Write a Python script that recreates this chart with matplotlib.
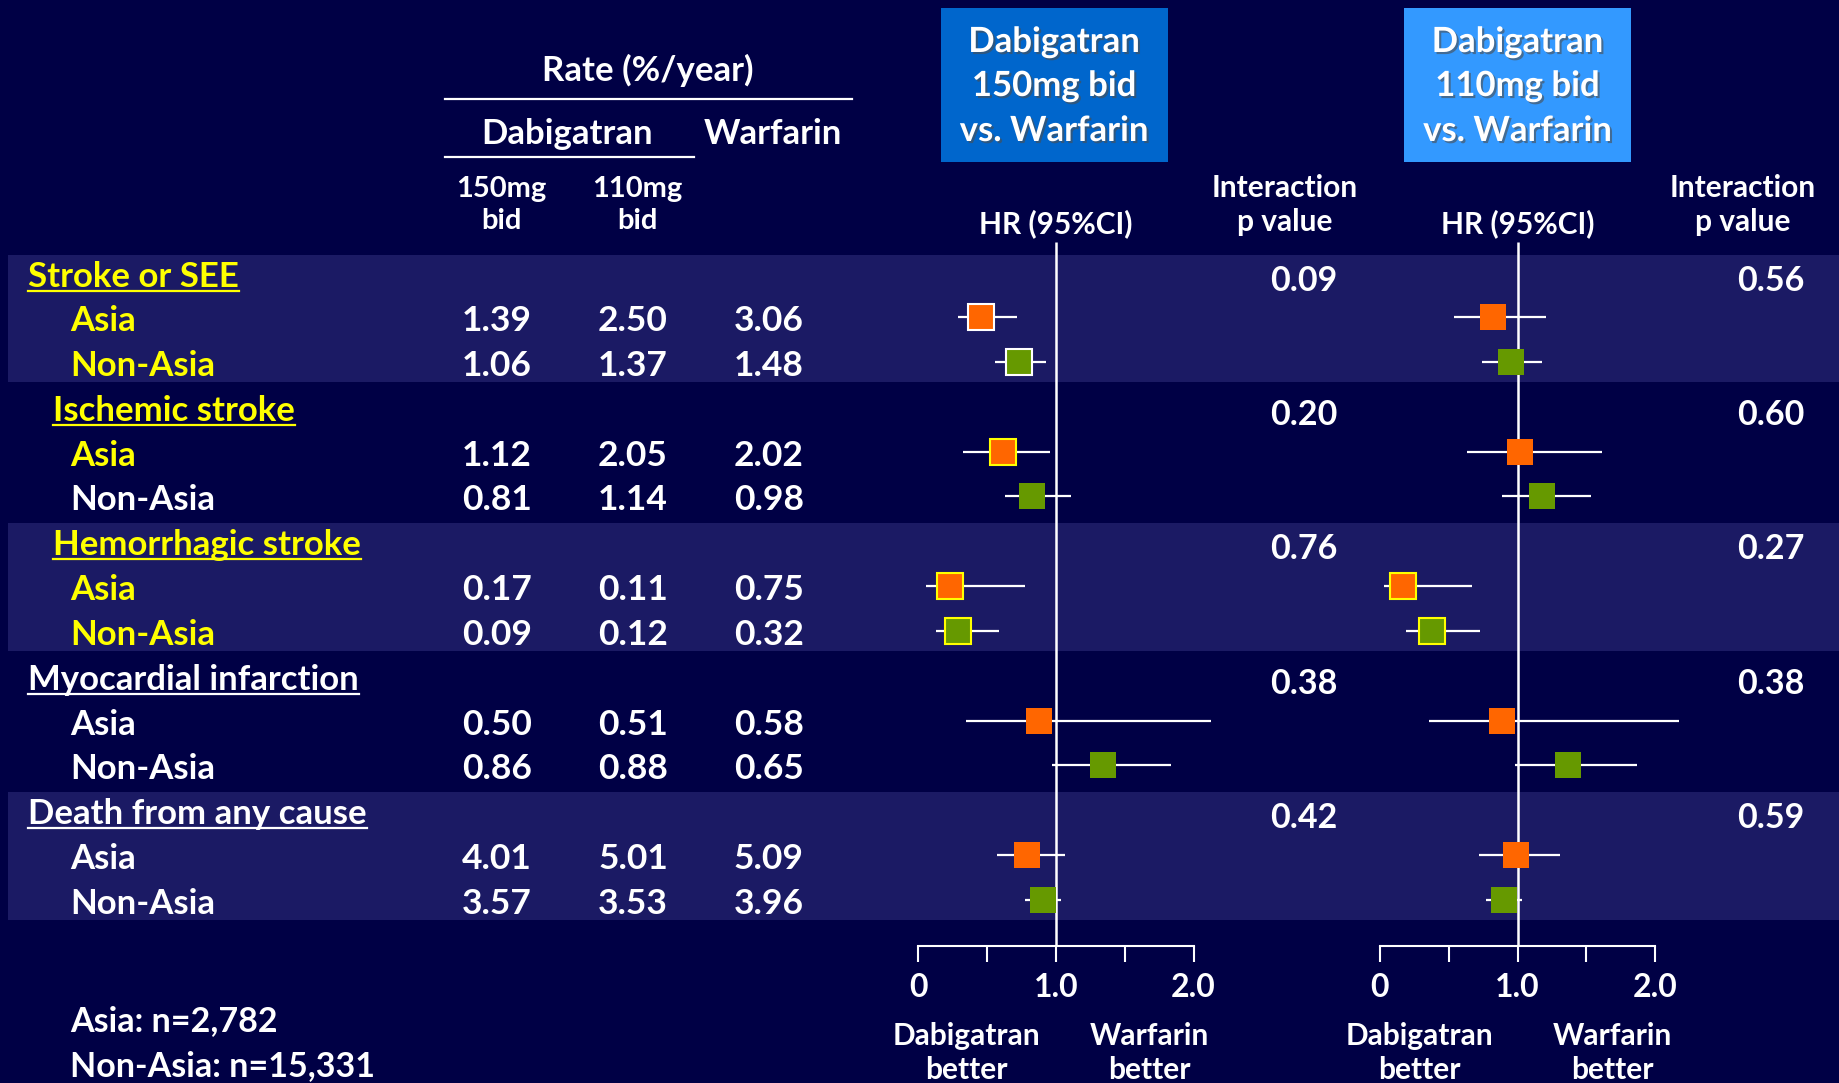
import matplotlib
matplotlib.use('Agg')
import matplotlib.pyplot as plt
import matplotlib.patheffects as pe
from matplotlib.patches import Rectangle

plt.rcParams['font.family'] = ['Lato', 'DejaVu Sans']
plt.rcParams['font.weight'] = 'bold'

# outcomes and subgroup rows
groups = ['Stroke or SEE', 'Ischemic stroke', 'Hemorrhagic stroke',
          'Myocardial infarction', 'Death from any cause']
subgroups = ['Asia', 'Non-Asia']

# event rates (%/year)
rate_d150_asia = ['1.39', '1.12', '0.17', '0.50', '4.01']
rate_d150_non = ['1.06', '0.81', '0.09', '0.86', '3.57']
rate_d110_asia = ['2.50', '2.05', '0.11', '0.51', '5.01']
rate_d110_non = ['1.37', '1.14', '0.12', '0.88', '3.53']
rate_warf_asia = ['3.06', '2.02', '0.75', '0.58', '5.09']
rate_warf_non = ['1.48', '0.98', '0.32', '0.65', '3.96']

# hazard ratios, dabigatran 150mg vs warfarin
hr150_asia = [0.46, 0.62, 0.23, 0.88, 0.79]
lo150_asia = [0.29, 0.33, 0.06, 0.35, 0.57]
hi150_asia = [0.72, 0.96, 0.78, 2.13, 1.07]
hr150_non = [0.73, 0.83, 0.29, 1.34, 0.91]
lo150_non = [0.56, 0.63, 0.13, 0.97, 0.78]
hi150_non = [0.93, 1.11, 0.59, 1.84, 1.04]

# hazard ratios, dabigatran 110mg vs warfarin
hr110_asia = [0.82, 1.02, 0.17, 0.89, 0.99]
lo110_asia = [0.54, 0.63, 0.03, 0.36, 0.72]
hi110_asia = [1.21, 1.61, 0.67, 2.17, 1.31]
hr110_non = [0.95, 1.18, 0.38, 1.37, 0.90]
lo110_non = [0.74, 0.89, 0.19, 0.98, 0.77]
hi110_non = [1.18, 1.53, 0.73, 1.87, 1.03]

# interaction p values
p150 = ['0.09', '0.20', '0.76', '0.38', '0.42']
p110 = ['0.56', '0.60', '0.27', '0.38', '0.59']

# label colours per row (header, Asia, Non-Asia)
YEL, WHT = '#ffff00', '#ffffff'
label_colors = [
    [YEL, YEL, YEL],
    [YEL, YEL, WHT],
    [YEL, YEL, YEL],
    [WHT, WHT, WHT],
    [WHT, WHT, WHT],
]
header_indent = [28, 53, 53, 28, 28]

# marker outline per panel (Asia, Non-Asia)
edges150 = [(WHT, WHT), (YEL, None), (YEL, YEL), (None, None), (None, None)]
edges110 = [(None, None), (None, None), (YEL, YEL), (None, None), (None, None)]

BG = '#000045'
BAND = '#1b1a64'
ORANGE = '#ff6600'
GREEN = '#669900'

W, H = 1839, 1083
fig = plt.figure(figsize=(W / 100, H / 100), dpi=100, facecolor=BG)
ax = fig.add_axes([0, 0, 1, 1])
ax.set_xlim(0, W)
ax.set_ylim(H, 0)
ax.axis('off')
ax.set_facecolor(BG)

# row layout
top_header = 272.6
group_step = 134.4
row_step = 44.7
txt_dy = 4  # text sits a little lower than the row centre
header_y = [top_header + i * group_step for i in range(len(groups))]

# shaded bands on alternate outcomes
for i, hy in enumerate(header_y):
    if i % 2 == 0:
        ax.add_patch(Rectangle((8, hy - 18), W - 8, 2 * row_step + 38,
                               facecolor=BAND, edgecolor='none', zorder=0))

# table header
ax.text(648, 70, 'Rate (%/year)', color='white', fontsize=25, ha='center', va='center')
ax.plot([445, 852], [99, 99], color='white', lw=1.6)
ax.text(567, 134, 'Dabigatran', color='white', fontsize=25, ha='center', va='center')
ax.text(773, 134, 'Warfarin', color='white', fontsize=25, ha='center', va='center')
ax.plot([445, 694], [157, 157], color='white', lw=1.6)
for x, s in [(501, '150mg\nbid'), (637, '110mg\nbid')]:
    ax.text(x, 205, s, color='white', fontsize=21, ha='center', va='center',
            linespacing=1.3)

# treatment boxes
box_specs = [(940.6, '#0066cc', '150mg bid'), (1404, '#3399ff', '110mg bid')]
for x0, col, dose in box_specs:
    ax.add_patch(Rectangle((x0, 8), 227, 154, facecolor=col, edgecolor='none'))
    for y, line in zip([42, 86, 131], ['Dabigatran', dose, 'vs. Warfarin']):
        ax.text(x0 + 113.5, y, line, color='white', fontsize=25, ha='center', va='center',
                path_effects=[pe.SimplePatchShadow(offset=(1.5, -1.5), alpha=0.6),
                              pe.Normal()])

for x in [1285, 1743]:
    ax.text(x, 205, 'Interaction\np value', color='white', fontsize=21.5,
            ha='center', va='center', linespacing=1.3)

col_x = [497, 633, 769]
rates = [(rate_d150_asia, rate_d150_non), (rate_d110_asia, rate_d110_non),
         (rate_warf_asia, rate_warf_non)]

headers = []
for i, g in enumerate(groups):
    hy = header_y[i] + txt_dy
    t = ax.text(header_indent[i], hy, g, color=label_colors[i][0], fontsize=25,
                ha='left', va='center')
    headers.append(t)
    for j, sg in enumerate(subgroups):
        y = hy + (j + 1) * row_step
        ax.text(70, y, sg, color=label_colors[i][j + 1], fontsize=25, ha='left', va='center')
        for cx, (ra, rn) in zip(col_x, rates):
            val = ra[i] if j == 0 else rn[i]
            ax.text(cx, y, val, color='white', fontsize=25.5, ha='center', va='center')
    ax.text(1304, hy + 4, p150[i], color='white', fontsize=24.5, ha='center', va='center')
    ax.text(1771, hy + 4, p110[i], color='white', fontsize=24.5, ha='center', va='center')

# underline the outcome names
fig.canvas.draw()
rend = fig.canvas.get_renderer()
inv = ax.transData.inverted()
for t, hy, row in zip(headers, header_y, label_colors):
    bb = t.get_window_extent(rend)
    (xa, _), (xb, _) = inv.transform([(bb.x0, 0), (bb.x1, 0)])
    ax.plot([xa, xb], [hy + 18, hy + 18], color=row[0], lw=1.6)

# footnote
ax.text(70, 1021, 'Asia: n=2,782', color='white', fontsize=24.5, ha='left', va='center')
ax.text(70, 1066, 'Non-Asia: n=15,331', color='white', fontsize=24.5, ha='left', va='center')


def forest(x_left, x_right, hr_a, lo_a, hi_a, hr_n, lo_n, hi_n, edges, lbl_x):
    fa = fig.add_axes([x_left / W, 0, (x_right - x_left) / W, 1])
    fa.set_xlim(0, 2)
    fa.set_ylim(H, 0)
    fa.patch.set_visible(False)
    for s in ['left', 'top', 'right']:
        fa.spines[s].set_visible(False)
    fa.spines['bottom'].set_position(('data', 946))
    fa.spines['bottom'].set_color('white')
    fa.spines['bottom'].set_linewidth(1.5)
    fa.spines['bottom'].set_bounds(0, 2)
    fa.set_yticks([])
    fa.set_xticks([0, 0.5, 1, 1.5, 2])
    fa.set_xticklabels(['0', '', '1.0', '', '2.0'], fontsize=23, color='white')
    fa.tick_params(axis='x', colors='white', length=11.5, width=1.5, pad=8,
                   direction='out')
    fa.vlines(1.0, 242, 946, color='white', lw=1.8, zorder=1)
    fa.text(1.0, 224, 'HR (95%CI)', color='white', fontsize=21.5, ha='center', va='center')
    for i, hy in enumerate(header_y):
        for j, (hr, lo, hi, col) in enumerate([(hr_a, lo_a, hi_a, ORANGE),
                                               (hr_n, lo_n, hi_n, GREEN)]):
            y = hy + (j + 1) * row_step
            fa.hlines(y, lo[i], hi[i], color='white', lw=1.6, zorder=2, clip_on=False)
            ec = edges[i][j]
            fa.plot(hr[i], y, marker='s', ms=18.7, mfc=col,
                    mec=ec if ec else col, mew=1.5 if ec else 0,
                    zorder=3, clip_on=False)
    for x, s in zip(lbl_x, ['Dabigatran\nbetter', 'Warfarin\nbetter']):
        ax.text(x, 1053, s, color='white', fontsize=21.5, ha='center', va='center',
                linespacing=1.3)
    return fa


forest(918, 1193.5, hr150_asia, lo150_asia, hi150_asia,
       hr150_non, lo150_non, hi150_non, edges150, [966, 1149])
forest(1379.75, 1655.25, hr110_asia, lo110_asia, hi110_asia,
       hr110_non, lo110_non, hi110_non, edges110, [1419, 1612])

fig.savefig('out.png', dpi=100, facecolor=BG)
